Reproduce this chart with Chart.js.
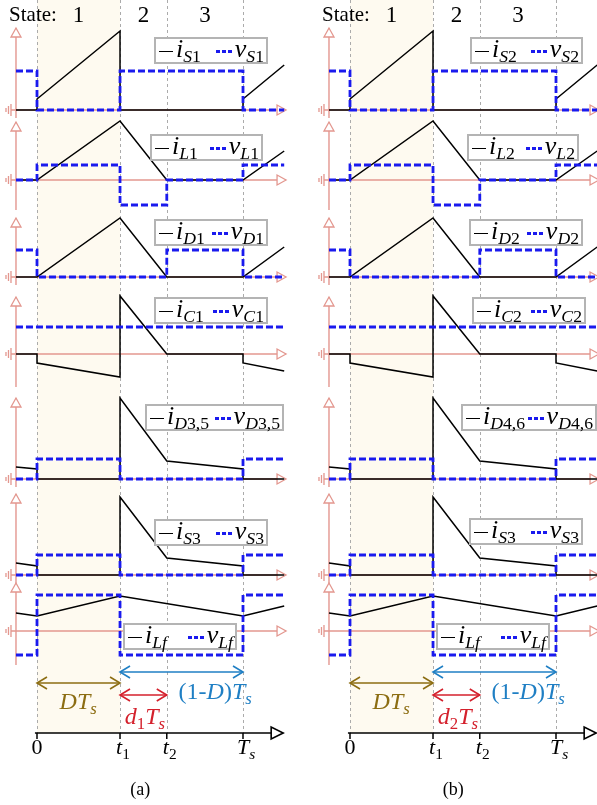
<!DOCTYPE html>
<html lang="en">
<head>
<meta charset="UTF-8">
<title>Switching waveforms</title>
<script src="https://cdn.jsdelivr.net/npm/chart.js"></script>
<style>
  body { margin: 0; background: #fff; width: 597px; height: 805px; overflow: hidden; position: relative;
         font-family: "Liberation Serif", "Times New Roman", serif; color: #000; }
  .col { position: absolute; top: 0; width: 300px; height: 805px; }
  .col canvas { position: absolute; left: 0; top: 0; }
  .txt { position: absolute; white-space: nowrap; transform: translate(-50%, -50%); line-height: 1; }
  .sb { font-size: 0.7em; position: relative; top: 0.3em; }
  .leg { position: absolute; height: 27px; box-sizing: border-box; border: 2px solid #b4b4b4; background: #fff;
         display: flex; justify-content: space-between; align-items: center; padding: 0 2px 3px 3px;
         font-size: 26px; line-height: 1; white-space: nowrap; }
  .leg .sb { font-size: 0.68em; }
  .sw { display: inline-block; vertical-align: middle; margin-right: 3px; }
  .sol { width: 14px; height: 0; border-top: 1.6px solid #000; }
  .dsh { width: 16px; height: 3px; background: repeating-linear-gradient(90deg, #1a1aee 0 4px, transparent 4px 6px); }
</style>
</head>
<body>
<div class="col" id="colA" style="left:0"><canvas id="chartA" width="300" height="805"></canvas></div>
<div class="col" id="colB" style="left:313px"><canvas id="chartB" width="300" height="805"></canvas></div>

<script>
// key instants (fraction of Ts)
const T1 = 0.403, T2 = 0.63, TS = 1;
const X0 = -0.102, X1 = 1.2;

// time axis ticks
const tickVals = [0, T1, T2, TS];
const tickLabels = ['0', '<i>t</i><span class="sb">1</span>', '<i>t</i><span class="sb">2</span>', '<i>T</i><span class="sb"><i>s</i></span>'];
const stateNames = ['1', '2', '3'];

// subscripts of each panel, column (a) and (b)
const subsA = ['S1', 'L1', 'D1', 'C1', 'D3,5', 'S3', 'Lf'];
const subsB = ['S2', 'L2', 'D2', 'C2', 'D4,6', 'S3', 'Lf'];

// currents [t, value]
const iS  = [[X0, 0], [0, 0], [0, 1.1], [T1, 7.9], [T1, 0], [TS, 0], [TS, 1.1], [X1, 4.5]];
const iL  = [[X0, 0], [0, 0], [T1, 5.9], [T2, 0], [TS, 0], [X1, 2.9]];
const iD  = [[X0, 0], [0, 0], [T1, 5.9], [T2, 0], [TS, 0], [X1, 3.0]];
const iC  = [[X0, 0], [0, 0], [0, -0.9], [T1, -2.3], [T1, 5.8], [T2, 0], [TS, 0], [TS, -0.9], [X1, -1.7]];
const iDo = [[X0, 1.2], [0, 1.0], [0, 0], [T1, 0], [T1, 8.1], [T2, 1.8], [TS, 1.0], [TS, 0], [X1, 0]];
const iS3 = [[X0, 1.2], [0, 0.9], [0, 0], [T1, 0], [T1, 7.8], [T2, 1.7], [TS, 0.9], [TS, 0], [X1, 0]];
const iLf = [[X0, 1.8], [0, 1.5], [T1, 3.5], [TS, 1.5], [X1, 2.5]];

// voltages [t, value]
const vS  = [[X0, 3.9], [0, 3.9], [0, 0], [T1, 0], [T1, 3.9], [TS, 3.9], [TS, 0], [X1, 0]];
const vL  = [[X0, 0], [0, 0], [0, 1.5], [T1, 1.5], [T1, -2.5], [T2, -2.5], [T2, 0], [TS, 0], [TS, 1.5], [X1, 1.5]];
const vD  = [[X0, 2.7], [0, 2.7], [0, 0], [T2, 0], [T2, 2.7], [TS, 2.7], [TS, 0], [X1, 0]];
const vC  = [[X0, 2.7], [X1, 2.7]];
const vDo = [[X0, 0], [0, 0], [0, 2.0], [T1, 2.0], [T1, 0], [TS, 0], [TS, 2.0], [X1, 2.0]];
const vS3 = [[X0, 0], [0, 0], [0, 2.0], [T1, 2.0], [T1, 0], [TS, 0], [TS, 2.0], [X1, 2.0]];
const vLf = [[X0, -2.4], [0, -2.4], [0, 3.6], [T1, 3.6], [T1, -2.4], [TS, -2.4], [TS, 3.6], [X1, 3.6]];

const currents = [iS, iL, iD, iC, iDo, iS3, iLf];
const voltages = [vS, vL, vD, vC, vDo, vS3, vLf];

// interval arrows: [from, to]
const spanDT = [0, T1];
const spanOneMinusD = [T1, TS];
const spanSmallD = [T1, T2];

// ---- layout ----
const panelMin = [-0.7, -3.3, -1.3, -3.8, -0.9, -0.7, -3.7, -7.2];
const panelMax = [11.0, 6.3, 6.4, 6.4, 8.7, 8.7, 4.9, 6.5];
const axisTop = [8.2, 5.8, 5.9, 5.7, 8.1, 8.1, 4.8];
const axisBot = [-0.8, -3.0, -0.8, -3.3, -0.8, -0.8, -3.4];
const legPosA = [[154, 37, 114], [150, 134, 113], [154, 219, 114], [154, 297, 114], [145, 404, 139], [154, 519, 114], [123, 623, 114]];
const legPosB = [[157, 37, 113], [154, 134, 112], [156, 219, 114], [159, 297, 114], [148, 404, 136], [156, 518, 114], [123, 623, 114]];

const PINK = '#e3978f', BLUE = '#1a1aee', OLIVE = '#8c6d12', SKY = '#1f7fc4', RED = '#d4202c';

function line(pts, yAxisID, color, width, order, extra) {
    return Object.assign({
        data: pts.map(p => ({ x: p[0], y: p[1] })),
        xAxisID: 'x', yAxisID: yAxisID,
        borderColor: color, borderWidth: width, order: order,
        pointRadius: 0, tension: 0, fill: false, clip: false,
        borderJoinStyle: 'miter'
    }, extra || {});
}

function head(ctx, tip, prev, len, hw, stroke, fill) {
    const dx = tip.x - prev.x, dy = tip.y - prev.y;
    const d = Math.hypot(dx, dy) || 1;
    const ux = dx / d, uy = dy / d;
    const bx = tip.x - ux * len, by = tip.y - uy * len;
    ctx.beginPath();
    if (fill) {
        ctx.moveTo(tip.x, tip.y);
        ctx.lineTo(bx - uy * hw, by + ux * hw);
        ctx.lineTo(bx + uy * hw, by - ux * hw);
        ctx.closePath();
        ctx.fillStyle = fill;
        ctx.fill();
    } else {
        ctx.moveTo(bx - uy * hw, by + ux * hw);
        ctx.lineTo(tip.x, tip.y);
        ctx.lineTo(bx + uy * hw, by - ux * hw);
    }
    ctx.strokeStyle = stroke;
    ctx.stroke();
}

const decor = {
    id: 'decor',
    beforeDatasetsDraw(chart) {
        const ctx = chart.ctx, x = chart.scales.x, area = chart.chartArea;
        const axisY = chart.scales.p7.getPixelForValue(0);
        ctx.save();
        // state 1 shading
        const xa = x.getPixelForValue(0), xb = x.getPixelForValue(T1);
        ctx.fillStyle = '#fefaf0';
        ctx.fillRect(xa, area.top, xb - xa, axisY - area.top);
        // dashed instants
        ctx.strokeStyle = '#ababab';
        ctx.lineWidth = 1;
        ctx.setLineDash([3, 3]);
        tickVals.forEach(t => {
            const px = Math.round(x.getPixelForValue(t)) + 0.5;
            ctx.beginPath();
            ctx.moveTo(px, area.top);
            ctx.lineTo(px, axisY);
            ctx.stroke();
        });
        ctx.setLineDash([]);
        // ground symbols
        ctx.strokeStyle = PINK;
        ctx.lineWidth = 1.3;
        const gx = x.getPixelForValue(X0);
        for (let k = 0; k < 7; k++) {
            const gy = chart.scales['p' + k].getPixelForValue(0);
            ctx.beginPath();
            ctx.moveTo(gx - 5, gy); ctx.lineTo(gx, gy);
            [[5, 6], [7.5, 4], [10, 2]].forEach(([o, h]) => {
                ctx.moveTo(gx - o, gy - h); ctx.lineTo(gx - o, gy + h);
            });
            ctx.stroke();
        }
        // time ticks
        ctx.strokeStyle = '#000';
        ctx.lineWidth = 1.5;
        tickVals.forEach(t => {
            const px = x.getPixelForValue(t);
            ctx.beginPath();
            ctx.moveTo(px, axisY); ctx.lineTo(px, axisY + 6);
            ctx.stroke();
        });
        ctx.restore();
    },
    afterDatasetDraw(chart, args) {
        const ds = chart.data.datasets[args.index];
        if (!ds.head) return;
        const pts = args.meta.data, n = pts.length;
        const ctx = chart.ctx;
        ctx.save();
        ctx.lineWidth = ds.head === 'tri' ? 1.3 : 1.6;
        if (ds.head === 'tri') {
            head(ctx, pts[n - 1], pts[n - 2], 9, 5, ds.borderColor, '#fff');
        } else if (ds.head === 'big') {
            head(ctx, pts[n - 1], pts[n - 2], 12, 6, ds.borderColor, '#fff');
        } else {
            head(ctx, pts[n - 1], pts[0], 10, 6, ds.borderColor, null);
            head(ctx, pts[0], pts[n - 1], 10, 6, ds.borderColor, null);
        }
        ctx.restore();
    }
};

function fmtSub(s) {
    return s.replace(/([A-Za-z])/g, '<i>$1</i>');
}

function place(col, html, x, y, size, color) {
    const el = document.createElement('div');
    el.className = 'txt';
    el.innerHTML = html;
    el.style.left = x + 'px';
    el.style.top = y + 'px';
    el.style.fontSize = size + 'px';
    if (color) el.style.color = color;
    col.appendChild(el);
}

function build(canvasId, colId, subs, legPos, dIndex, caption) {
    const datasets = [];
    currents.forEach((pts, k) => {
        const id = 'p' + k;
        datasets.push(line([[X0, 0], [1.209, 0]], id, PINK, 1.4, 4, { head: 'tri' }));
        datasets.push(line([[X0, axisBot[k]], [X0, axisTop[k]]], id, PINK, 1.4, 4, { head: 'tri' }));
        datasets.push(line(pts, id, '#000', 1.5, 2));
        datasets.push(line(voltages[k], id, BLUE, 2.8, 1, { borderDash: [7, 3] }));
    });
    datasets.push(line([[-0.01, 0], [1.195, 0]], 'p7', '#000', 1.6, 3, { head: 'big' }));
    datasets.push(line(spanOneMinusD.map(t => [t, 6.1]), 'p7', SKY, 1.6, 0, { head: 'both' }));
    datasets.push(line(spanDT.map(t => [t, 5.0]), 'p7', OLIVE, 1.6, 0, { head: 'both' }));
    datasets.push(line(spanSmallD.map(t => [t, 3.8]), 'p7', RED, 1.6, 0, { head: 'both' }));

    const scales = {
        x: { type: 'linear', min: -37 / 206, max: 263 / 206, display: false }
    };
    for (let k = 0; k < 8; k++) {
        scales['p' + k] = {
            type: 'linear', axis: 'y', position: 'left', stack: 'col',
            stackWeight: panelMax[k] - panelMin[k], weight: 8 - k,
            min: panelMin[k], max: panelMax[k],
            grid: { display: false, drawTicks: false },
            border: { display: false },
            ticks: { display: false },
            afterFit: s => { s.width = 0; }
        };
    }

    const chart = new Chart(document.getElementById(canvasId), {
        type: 'line',
        data: { datasets: datasets },
        options: {
            responsive: false,
            animation: false,
            events: [],
            layout: { padding: 0 },
            plugins: { legend: { display: false }, tooltip: { enabled: false } },
            scales: scales
        },
        plugins: [decor]
    });

    const col = document.getElementById(colId);
    const x = chart.scales.x;
    const yT = chart.scales.p7;

    place(col, 'State:', 33, 14, 21);
    stateNames.forEach((s, i) => {
        place(col, s, x.getPixelForValue((tickVals[i] + tickVals[i + 1]) / 2), 14, 23);
    });
    tickVals.forEach((t, i) => {
        place(col, tickLabels[i], x.getPixelForValue(t) + (i ? 3 : 0), yT.getPixelForValue(0) + 14, 22);
    });
    place(col, '<i>DT</i><span class="sb"><i>s</i></span>', x.getPixelForValue(0.2), 701, 24, OLIVE);
    place(col, '(1-<i>D</i>)<i>T</i><span class="sb"><i>s</i></span>', x.getPixelForValue(0.865), 691, 24, SKY);
    place(col, '<i>d</i><span class="sb">' + dIndex + '</span><i>T</i><span class="sb"><i>s</i></span>', x.getPixelForValue(0.524), 716, 24, RED);
    place(col, caption, x.getPixelForValue(0.501), 789, 18);

    subs.forEach((s, k) => {
        const [lx, ly, lw] = legPos[k];
        const el = document.createElement('div');
        el.className = 'leg';
        el.style.left = lx + 'px';
        el.style.top = ly + 'px';
        el.style.width = lw + 'px';
        el.innerHTML =
            '<span><span class="sw sol"></span><i>i</i><span class="sb">' + fmtSub(s) + '</span></span>' +
            '<span><span class="sw dsh"></span><i>v</i><span class="sb">' + fmtSub(s) + '</span></span>';
        col.appendChild(el);
    });
    return chart;
}

build('chartA', 'colA', subsA, legPosA, '1', '(a)');
build('chartB', 'colB', subsB, legPosB, '2', '(b)');
</script>
</body>
</html>
